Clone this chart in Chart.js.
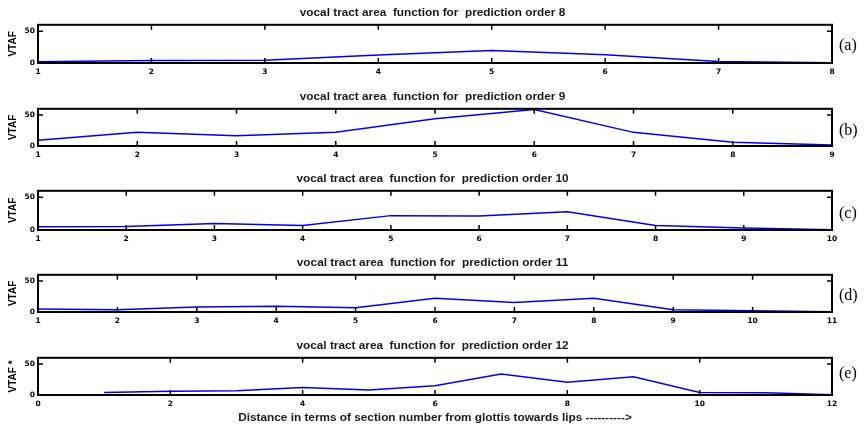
<!DOCTYPE html>
<html><head><meta charset="utf-8">
<script src="https://cdn.jsdelivr.net/npm/chart.js@4"></script>
<style>
body{margin:0;background:#fff;width:865px;height:438px;position:relative;overflow:hidden}
.p{position:absolute;left:0}
.tag{position:absolute;left:839px;font:16px 'Liberation Serif','Times New Roman',serif;color:#000;line-height:18px}
</style></head><body>
<script>
// ---- data ----
const orders = [8, 9, 10, 11, 12];
const vtaf8  = [2, 4, 4.5, 12.5, 19.5, 13, 2.5, 0.5];
const vtaf9  = [9.3, 22, 16.5, 22, 44, 59, 22, 6, 1.5];
const vtaf10 = [5, 5.3, 10, 7, 22, 21.5, 28, 7, 3, 0.5];
const vtaf11 = [5, 3.6, 8, 9.4, 7, 22, 15.5, 22, 3.6, 2, 0.5];
const vtaf12 = [4, 6, 7, 12, 8, 15, 34, 20.5, 29.5, 4, 3.5, 0.5];
const yTicks = [0, 50];
const panelTags = ['(a)', '(b)', '(c)', '(d)', '(e)'];
const yLabels = ['VTAF', 'VTAF', 'VTAF', 'VTAF', 'VTAF *'];
const xLabel = 'Distance in terms of section number from glottis towards lips ---------->';
const titleText = n => 'vocal tract area  function for  prediction order ' + n;
const series = [vtaf8, vtaf9, vtaf10, vtaf11, vtaf12];

// ---- layout (positions only) ----
const layout = [
  {top: 4,   plotH: 39, xH: 18, tagY: 36},
  {top: 88,  plotH: 38, xH: 18, tagY: 121},
  {top: 170, plotH: 40, xH: 18, tagY: 204},
  {top: 254, plotH: 38, xH: 18, tagY: 286},
  {top: 337, plotH: 38, xH: 32, tagY: 364}
];
const TITLE_H = 20;
const Y_W = 38, R_W = 33;

const frame = {
  id: 'frame',
  afterDatasetsDraw(chart) {
    const {ctx, chartArea: a, scales: {x, y}} = chart;
    const L = 5;
    ctx.save();
    ctx.strokeStyle = '#000';
    ctx.lineWidth = 1.5;
    ctx.beginPath();
    x.ticks.forEach(t => {
      const px = x.getPixelForValue(t.value);
      ctx.moveTo(px, a.top); ctx.lineTo(px, a.top + L);
      ctx.moveTo(px, a.bottom); ctx.lineTo(px, a.bottom - L);
    });
    y.ticks.forEach(t => {
      const py = y.getPixelForValue(t.value);
      ctx.moveTo(a.left, py); ctx.lineTo(a.left + L, py);
      ctx.moveTo(a.right, py); ctx.lineTo(a.right - L, py);
    });
    ctx.stroke();
    ctx.lineWidth = 2;
    ctx.strokeRect(a.left, a.top, a.right - a.left, a.bottom - a.top);
    ctx.restore();
  }
};

const tickFont = {family: "'DejaVu Sans', sans-serif", weight: 'bold', size: 7.5};
const labFont = "'Liberation Sans', Arial, sans-serif";

series.forEach((vals, i) => {
  const L = layout[i];
  const div = document.createElement('div');
  div.className = 'p';
  div.style.top = L.top + 'px';
  const cv = document.createElement('canvas');
  cv.width = 865;
  cv.height = TITLE_H + L.plotH + L.xH;
  div.appendChild(cv);
  document.body.appendChild(div);

  const tag = document.createElement('div');
  tag.className = 'tag';
  tag.style.top = L.tagY + 'px';
  tag.textContent = panelTags[i];
  document.body.appendChild(tag);

  const n = vals.length;
  const last = i === series.length - 1;
  const pts = vals.map((v, k) => ({x: k + 1, y: v}));

  new Chart(cv, {
    type: 'line',
    data: {datasets: [{data: pts, borderColor: '#0000f0', borderWidth: 1.5, pointRadius: 0, tension: 0, fill: false, yAxisID: 'y'}]},
    plugins: [frame],
    options: {
      responsive: false,
      animation: false,
      devicePixelRatio: 1,
      layout: {padding: 0},
      plugins: {
        legend: {display: false},
        tooltip: {enabled: false},
        title: {
          display: true, text: titleText(orders[i]), color: '#1a1a1a',
          font: {family: labFont, weight: 'bold', size: 11.8, lineHeight: 1},
          padding: {top: 3, bottom: 6}
        }
      },
      scales: {
        x: {
          type: 'linear',
          min: last ? 0 : 1,
          max: n,
          ticks: {stepSize: last ? 2 : 1, color: '#000', font: tickFont, padding: 5, maxRotation: 0, autoSkip: false},
          grid: {display: false, drawTicks: false},
          border: {display: false},
          title: last ? {display: true, text: xLabel, color: '#1a1a1a',
            font: {family: labFont, weight: 'bold', size: 11.8, lineHeight: 1},
            padding: {top: 0, bottom: 3}} : {display: false},
          afterFit: s => { s.height = L.xH; }
        },
        y: {
          position: 'left',
          min: 0, max: 60,
          afterBuildTicks: s => { s.ticks = yTicks.map(v => ({value: v})); },
          ticks: {color: '#000', font: tickFont, padding: 3},
          grid: {display: false, drawTicks: false},
          border: {display: false},
          title: {display: true, text: yLabels[i], color: '#000',
            font: {family: labFont, weight: 'bold', size: 10, lineHeight: 1},
            padding: {top: 8, bottom: 0}},
          afterFit: s => { s.width = Y_W; }
        },
        yr: {
          position: 'right',
          min: 0, max: 60,
          ticks: {display: false},
          grid: {display: false, drawTicks: false},
          border: {display: false},
          afterFit: s => { s.width = R_W; }
        }
      }
    }
  });
});
</script>
</body></html>
